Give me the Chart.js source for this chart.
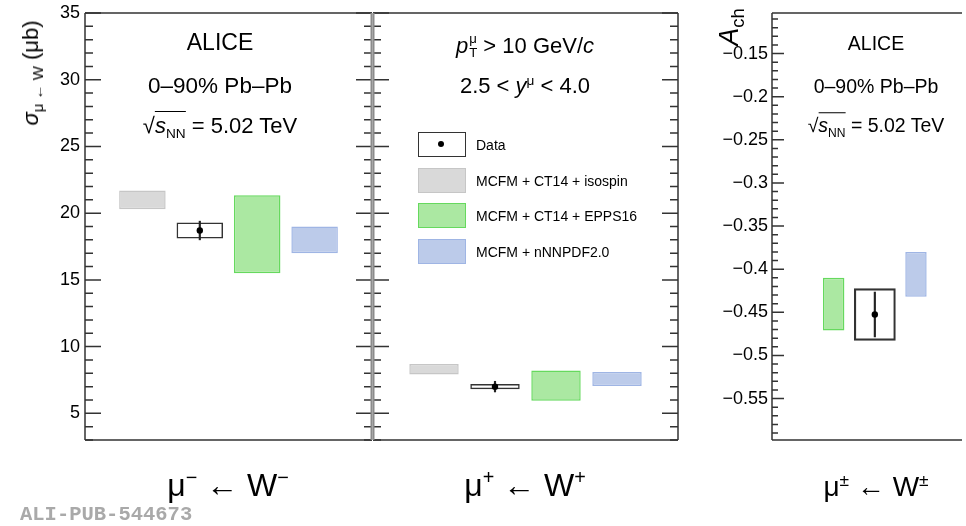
<!DOCTYPE html>
<html>
<head>
<meta charset="utf-8">
<script src="https://cdn.jsdelivr.net/npm/chart.js@4.4.1/dist/chart.umd.min.js"></script>
<style>
  body { margin: 0; background: #fff; }
  #wrap { position: relative; width: 966px; height: 526px; overflow: hidden; font-family: 'Liberation Sans', Arial, sans-serif; color: #000; }
  canvas { position: absolute; left: 0; top: 0; }
  .t { position: absolute; white-space: nowrap; line-height: 1; transform: translate(-50%, -50%); }
  .rot { transform: translate(-50%, -50%) rotate(-90deg); }
  .ov { border-top: 1px solid #000; padding-top: 1px; }
  sub, sup { font-size: 0.62em; line-height: 0; }
  .stack { display: inline-block; vertical-align: -0.32em; font-size: 0.6em; line-height: 1.05; text-align: left; margin-left: 1px; }
  .leg { position: absolute; left: 418px; width: 48px; height: 25px; box-sizing: border-box; }
  .legtxt { position: absolute; left: 476px; font-size: 14px; line-height: 1; transform: translateY(-50%); white-space: nowrap; }
  .tag { position: absolute; left: 20px; top: 505px; font-family: 'Liberation Mono', monospace; font-weight: bold; font-size: 20.5px; color: #a9a9a9; line-height: 1; }
</style>
</head>
<body>
<div id="wrap">
  <canvas id="c1" width="966" height="526"></canvas>
  <canvas id="c2" width="966" height="526"></canvas>
  <canvas id="c3" width="966" height="526"></canvas>

  <div class="t rot" style="left:31px; top:73px; font-size:22px;"><i>σ</i><sub style="font-size:0.68em;">μ ← W</sub> (μb)</div>
  <div class="t rot" style="left:729px; top:27px; font-size:27px;"><i>A</i><sub style="font-size:0.68em;">ch</sub></div>

  <div class="t" style="left:220px; top:42px; font-size:23px;">ALICE</div>
  <div class="t" style="left:220px; top:86px; font-size:22.5px;">0–90% Pb–Pb</div>
  <div class="t" style="left:220px; top:126px; font-size:22px;">√<span class="ov"><i>s</i><sub>NN</sub></span> = 5.02 TeV</div>

  <div class="t" style="left:525px; top:46px; font-size:22px;"><i>p</i><span class="stack">μ<br>T</span> &gt; 10 GeV/<i>c</i></div>
  <div class="t" style="left:525px; top:86px; font-size:22px;">2.5 &lt; <i>y</i><sup>μ</sup> &lt; 4.0</div>

  <div class="t" style="left:876px; top:44px; font-size:19.5px;">ALICE</div>
  <div class="t" style="left:876px; top:87px; font-size:19.5px;">0–90% Pb–Pb</div>
  <div class="t" style="left:876px; top:126px; font-size:19.5px;">√<span class="ov"><i>s</i><sub>NN</sub></span> = 5.02 TeV</div>

  <div class="leg" style="top:132px; border:1.5px solid #333; background:#fff;"><div style="position:absolute; left:19px; top:8px; width:6px; height:6px; border-radius:50%; background:#000;"></div></div>
  <div class="leg" style="top:168px; border:1.5px solid #c6c6c6; background:#d9d9d9;"></div>
  <div class="leg" style="top:203px; border:1.5px solid #66d95e; background:#abe8a2;"></div>
  <div class="leg" style="top:239px; border:1.5px solid #9fb5e4; background:#bccbea;"></div>
  <div class="legtxt" id="l0" style="top:145px;"></div>
  <div class="legtxt" id="l1" style="top:181px;"></div>
  <div class="legtxt" id="l2" style="top:216px;"></div>
  <div class="legtxt" id="l3" style="top:252px;"></div>

  <div class="t" id="x0" style="left:228px; top:485px; font-size:32px;"></div>
  <div class="t" id="x1" style="left:525px; top:485px; font-size:32px;"></div>
  <div class="t" id="x2" style="left:876px; top:487px; font-size:28px;"></div>

  <div class="tag">ALI-PUB-544673</div>
</div>
<script>
// panels and legend entries
const panels = ['μ<sup>−</sup> ← W<sup>−</sup>', 'μ<sup>+</sup> ← W<sup>+</sup>', 'μ<sup>±</sup> ← W<sup>±</sup>'];
const legendNames = ['Data', 'MCFM + CT14 + isospin', 'MCFM + CT14 + EPPS16', 'MCFM + nNNPDF2.0'];

// cross sections (μb): index 0 = μ- <- W-, index 1 = μ+ <- W+
const sigmaValue = [18.7, 7.0];
const sigmaStat = [0.7, 0.4];
const sigmaSyst = [0.6, 0.2];
const sigmaIsospin = [[20.3, 21.7], [7.9, 8.7]];
const sigmaEpps16 = [[15.5, 21.35], [5.95, 8.2]];
const sigmaNnnpdf = [[17.0, 19.0], [7.05, 8.1]];
const sigmaSlots = [0.2, 0.4, 0.6, 0.8];   // isospin, data, EPPS16, nNNPDF
const sigmaTicks = [5, 10, 15, 20, 25, 30, 35];

// charge asymmetry
const achValue = -0.4525;
const achStat = 0.026;
const achSyst = 0.030;
const achEpps16 = [-0.471, -0.410];
const achNnnpdf = [-0.432, -0.380];
const achSlots = [0.3, 0.5, 0.7];          // EPPS16, data, nNNPDF
const achTicks = [-0.55, -0.5, -0.45, -0.4, -0.35, -0.3, -0.25, -0.2, -0.15];

legendNames.forEach((n, i) => document.getElementById('l' + i).textContent = n);
panels.forEach((p, i) => document.getElementById('x' + i).innerHTML = p);

const grayFill = '#d9d9d9', grayEdge = '#c6c6c6';
const greenFill = '#abe8a2', greenEdge = '#66d95e';
const blueFill = '#bccbea', blueEdge = '#9fb5e4';

// ROOT-like frame with inward ticks
const rootFrame = {
    id: 'rootFrame',
    afterDraw(chart, args, opts) {
        const { ctx, chartArea: a } = chart;
        const y = chart.scales.y;
        ctx.save();
        ctx.strokeStyle = '#333';
        ctx.lineWidth = 1.5;
        ctx.beginPath();
        const first = Math.ceil(y.min / opts.minor - 1e-6);
        const last = Math.floor(y.max / opts.minor + 1e-6);
        for (let k = first; k <= last; k++) {
            const py = y.getPixelForValue(k * opts.minor);
            const len = k % opts.every === 0 ? opts.majorLen : opts.minorLen;
            if (opts.left) { ctx.moveTo(a.left, py); ctx.lineTo(a.left + len, py); }
            if (opts.right) { ctx.moveTo(a.right, py); ctx.lineTo(a.right - len, py); }
        }
        ctx.stroke();
        // top, bottom and outer edges
        ctx.beginPath();
        ctx.moveTo(a.left, a.top); ctx.lineTo(a.right, a.top);
        ctx.moveTo(a.left, a.bottom); ctx.lineTo(a.right, a.bottom);
        if (!opts.sharedLeft) { ctx.moveTo(a.left, a.top); ctx.lineTo(a.left, a.bottom); }
        if (opts.closed && !opts.sharedRight) { ctx.moveTo(a.right, a.top); ctx.lineTo(a.right, a.bottom); }
        ctx.stroke();
        // the edge two panels share looks lighter and wider
        ctx.beginPath();
        ctx.strokeStyle = '#8c8c8c';
        ctx.lineWidth = 2;
        if (opts.sharedLeft) { ctx.moveTo(a.left + 0.5, a.top); ctx.lineTo(a.left + 0.5, a.bottom); }
        if (opts.sharedRight) { ctx.moveTo(a.right - 0.5, a.top); ctx.lineTo(a.right - 0.5, a.bottom); }
        ctx.stroke();
        ctx.restore();
    }
};

function boxSet(x, range, fill, edge, pct) {
    return {
        type: 'bar', data: [{ x: x, y: range }],
        backgroundColor: fill, borderColor: edge, borderWidth: 1.5, borderSkipped: false,
        grouped: false, categoryPercentage: 1, barPercentage: pct, order: 3
    };
}

function dataSets(x, v, stat, syst, pct) {
    return [
        boxSet(x, [v - syst, v + syst], 'rgba(255,255,255,0)', '#333', pct),
        { type: 'bar', data: [{ x: x, y: [v - stat, v + stat] }], backgroundColor: '#222',
          barThickness: 1.5, grouped: false, order: 2 },
        { type: 'scatter', data: [{ x: x, y: v }], pointRadius: 3.2,
          pointBackgroundColor: '#000', pointBorderWidth: 0, order: 1 }
    ];
}

function sigmaDatasets(i) {
    return [
        boxSet(sigmaSlots[0], sigmaIsospin[i], grayFill, grayEdge, 0.81),
        ...dataSets(sigmaSlots[1], sigmaValue[i], sigmaStat[i], sigmaSyst[i], 0.81),
        boxSet(sigmaSlots[2], sigmaEpps16[i], greenFill, greenEdge, 0.81),
        boxSet(sigmaSlots[3], sigmaNnnpdf[i], blueFill, blueEdge, 0.81)
    ];
}

const tickFont = { family: "'Liberation Sans', Arial, sans-serif", size: 18 };
const minusSign = v => String(+v.toFixed(2)).replace('-', '−');

function baseOptions(padding, yScale, frame, xMax, slots) {
    return {
        responsive: false,
        animation: false,
        events: [],
        layout: { padding: padding },
        plugins: { legend: { display: false }, tooltip: { enabled: false }, rootFrame: frame },
        scales: {
            x: {
                type: 'linear', min: 0, max: xMax, display: false, offset: false,
                afterBuildTicks: s => { s.ticks = slots.map(v => ({ value: v })); }
            },
            y: yScale
        }
    };
}

const sigmaAxis = (show) => ({
    min: 3, max: 35,
    display: show,
    afterFit: s => { s.width = show ? 85 : 0; s.paddingTop = 0; s.paddingBottom = 0; },
    afterBuildTicks: s => { s.ticks = sigmaTicks.map(v => ({ value: v })); },
    grid: { display: false, drawTicks: false },
    border: { display: false },
    ticks: { color: '#000', font: tickFont, padding: 5 }
});

new Chart(document.getElementById('c1'), {
    type: 'bar',
    data: { datasets: sigmaDatasets(0) },
    options: baseOptions({ left: 0, top: 13, right: 594, bottom: 86 }, sigmaAxis(true),
        { minor: 1, every: 5, majorLen: 16, minorLen: 8, left: true, right: true, closed: true, sharedRight: true }, 1, sigmaSlots),
    plugins: [rootFrame]
});

new Chart(document.getElementById('c2'), {
    type: 'bar',
    data: { datasets: sigmaDatasets(1) },
    options: baseOptions({ left: 373, top: 13, right: 288, bottom: 86 }, sigmaAxis(false),
        { minor: 1, every: 5, majorLen: 16, minorLen: 8, left: true, right: true, closed: true, sharedLeft: true }, 1, sigmaSlots),
    plugins: [rootFrame]
});

new Chart(document.getElementById('c3'), {
    type: 'bar',
    data: {
        datasets: [
            boxSet(achSlots[0], achEpps16, greenFill, greenEdge, 0.52),
            ...dataSets(achSlots[1], achValue, achStat, achSyst, 1.0),
            boxSet(achSlots[2], achNnnpdf, blueFill, blueEdge, 0.52)
        ]
    },
    options: baseOptions({ left: 0, top: 13, right: 0, bottom: 86 }, {
        min: -0.598, max: -0.103,
        afterFit: s => { s.width = 772; s.paddingTop = 0; s.paddingBottom = 0; },
        afterBuildTicks: s => { s.ticks = achTicks.map(v => ({ value: v })); },
        grid: { display: false, drawTicks: false },
        border: { display: false },
        ticks: { color: '#000', font: { family: tickFont.family, size: 18 }, padding: 4, callback: v => minusSign(v) }
    }, { minor: 0.01, every: 5, majorLen: 12, minorLen: 6, left: true, right: false, closed: false }, 194 / 210, achSlots),
    plugins: [rootFrame]
});
</script>
</body>
</html>
